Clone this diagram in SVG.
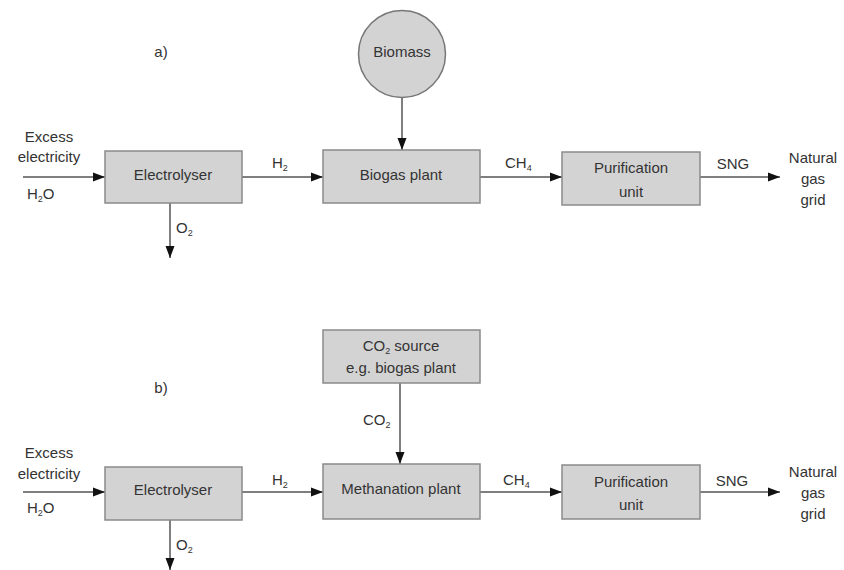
<svg xmlns="http://www.w3.org/2000/svg" width="844" height="570" viewBox="0 0 844 570">
<defs>
<marker id="arr" markerUnits="userSpaceOnUse" markerWidth="12" markerHeight="10" refX="12" refY="5" orient="auto">
<path d="M0,0.5 L12,5 L0,9.5 z" fill="#111"/>
</marker>
<style>
text{font-family:"Liberation Sans",Arial,sans-serif;font-size:15px;fill:#333;text-anchor:middle}
.l{text-anchor:start}
.box{fill:#d3d3d3;stroke:#8a8a8a;stroke-width:1.5}
.c{stroke:#555;stroke-width:1.5;fill:none;marker-end:url(#arr)}
.s{font-size:9px}
</style>
</defs>
<rect width="844" height="570" fill="#fff"/>
<text x="161" y="57">a)</text>
<text x="161" y="393">b)</text>
<g id="connectors">
<line class="c" x1="23" y1="177" x2="105" y2="177"/>
<line class="c" x1="242" y1="177" x2="323" y2="177"/>
<line class="c" x1="402" y1="98" x2="402" y2="150"/>
<line class="c" x1="480" y1="177" x2="562" y2="177"/>
<line class="c" x1="700" y1="177" x2="780" y2="177"/>
<line class="c" x1="170" y1="203" x2="170" y2="258"/>
<line class="c" x1="23" y1="492" x2="105" y2="492"/>
<line class="c" x1="242" y1="492" x2="323" y2="492"/>
<line class="c" x1="400" y1="383" x2="400" y2="464"/>
<line class="c" x1="480" y1="492" x2="562" y2="492"/>
<line class="c" x1="700" y1="492" x2="780" y2="492"/>
<line class="c" x1="170" y1="520" x2="170" y2="570"/>
<text x="49" y="142">Excess</text>
<text x="49" y="162">electricity</text>
<text class="l" x="27" y="199">H<tspan class="s" dy="3">2</tspan><tspan dy="-3">O</tspan></text>
<text class="l" x="272" y="168">H<tspan class="s" dy="3">2</tspan></text>
<text class="l" x="176" y="233">O<tspan class="s" dy="3">2</tspan></text>
<text class="l" x="505" y="168">CH<tspan class="s" dy="3">4</tspan></text>
<text x="733" y="169">SNG</text>
<text x="813" y="163">Natural</text>
<text x="813" y="184">gas</text>
<text x="813" y="205">grid</text>
<text x="49" y="458">Excess</text>
<text x="49" y="479">electricity</text>
<text class="l" x="27" y="513">H<tspan class="s" dy="3">2</tspan><tspan dy="-3">O</tspan></text>
<text class="l" x="272" y="485">H<tspan class="s" dy="3">2</tspan></text>
<text class="l" x="176" y="550">O<tspan class="s" dy="3">2</tspan></text>
<text class="l" x="363" y="425">CO<tspan class="s" dy="3">2</tspan></text>
<text class="l" x="503" y="485">CH<tspan class="s" dy="3">4</tspan></text>
<text x="732" y="486">SNG</text>
<text x="813" y="477">Natural</text>
<text x="813" y="498">gas</text>
<text x="813" y="519">grid</text>
</g>
<g id="biomass">
<circle cx="402" cy="54" r="43.5" fill="#d3d3d3" stroke="#777" stroke-width="1.5"/>
<text x="402" y="57">Biomass</text>
</g>
<g id="electrolyser-a">
<rect class="box" x="105" y="151" width="137" height="52"/>
<text x="173" y="180">Electrolyser</text>
</g>
<g id="biogas-plant">
<rect class="box" x="323" y="150" width="157" height="53"/>
<text x="401" y="180">Biogas plant</text>
</g>
<g id="purification-a">
<rect class="box" x="562" y="152" width="138" height="53"/>
<text x="631" y="173">Purification</text>
<text x="631" y="197">unit</text>
</g>
<g id="co2-source">
<rect class="box" x="323" y="330" width="157" height="53"/>
<text x="401" y="351">CO<tspan class="s" dy="3">2</tspan><tspan dy="-3"> source</tspan></text>
<text x="401" y="373">e.g. biogas plant</text>
</g>
<g id="electrolyser-b">
<rect class="box" x="105" y="467" width="137" height="53"/>
<text x="173" y="495">Electrolyser</text>
</g>
<g id="methanation-plant">
<rect class="box" x="323" y="464" width="157" height="55"/>
<text x="401" y="494">Methanation plant</text>
</g>
<g id="purification-b">
<rect class="box" x="562" y="465" width="138" height="54"/>
<text x="631" y="487">Purification</text>
<text x="631" y="510">unit</text>
</g>
</svg>
